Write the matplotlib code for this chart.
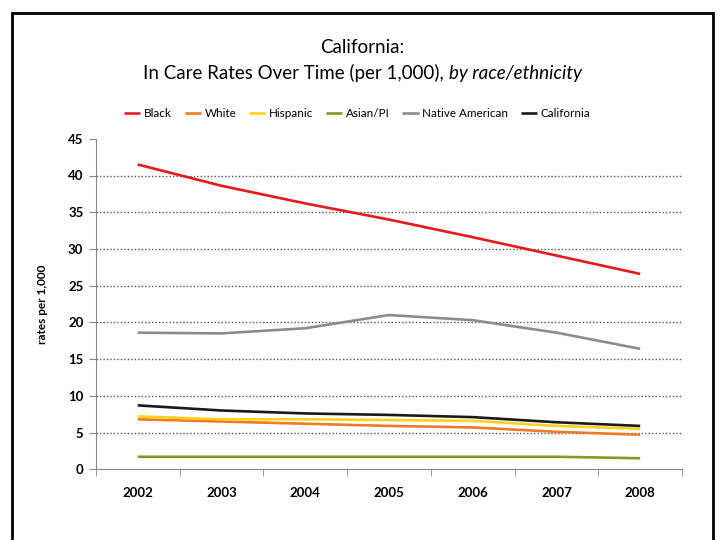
import matplotlib.pyplot as plt
from matplotlib.patches import Rectangle

plt.rcParams['font.family'] = ['Lato', 'DejaVu Sans']

years = ['2002', '2003', '2004', '2005', '2006', '2007', '2008']
black = [41.5, 38.6, 36.2, 34.0, 31.6, 29.1, 26.6]
white = [6.8, 6.5, 6.2, 5.9, 5.7, 5.1, 4.7]
hispanic = [7.2, 6.8, 6.8, 6.7, 6.6, 5.9, 5.5]
asian_pi = [1.7, 1.7, 1.7, 1.7, 1.7, 1.7, 1.5]
native_american = [18.6, 18.5, 19.2, 21.0, 20.3, 18.6, 16.4]
california = [8.7, 8.0, 7.6, 7.4, 7.1, 6.4, 5.9]

series = [
    ('Black', black, '#e8181e'),
    ('White', white, '#f07a2a'),
    ('Hispanic', hispanic, '#ffd21a'),
    ('Asian/PI', asian_pi, '#8a9628'),
    ('Native American', native_american, '#8c8c8c'),
    ('California', california, '#1a1a1a'),
]

fig = plt.figure(figsize=(7.21, 5.40), dpi=100)
ax = fig.add_axes([0.133, 0.131, 0.813, 0.612])

x = list(range(len(years)))
for name, vals, color in series:
    ax.plot(x, vals, color=color, lw=1.9, label=name, solid_capstyle='butt')

ax.set_xlim(-0.5, len(years) - 0.5)
ax.set_ylim(0, 45)
ax.set_yticks(range(0, 50, 5))
ax.set_xticks(x)
ax.set_xticklabels(years, fontsize=9.5, fontweight='bold')
ax.set_xticks([i + 0.5 for i in range(-1, len(years))], minor=True)
ax.tick_params(axis='x', which='major', length=0, pad=13)
ax.tick_params(axis='x', which='minor', length=5, color='#888888', direction='out')
ax.tick_params(axis='y', length=5, color='#888888', labelsize=9.5, pad=4)
for lbl in ax.get_yticklabels():
    lbl.set_fontweight('bold')

# dotted gridlines
for v in range(5, 45, 5):
    ax.axhline(v, color='#555555', lw=1.0, ls=(0, (1, 1.5)), zorder=0)

for s in ['top', 'right']:
    ax.spines[s].set_visible(False)
for s in ['left', 'bottom']:
    ax.spines[s].set_color('#888888')

ax.set_ylabel('rates per 1,000', fontsize=8.5, fontweight='bold', labelpad=14)

ax.legend(loc='center', bbox_to_anchor=(0.446, 1.075), ncol=6, frameon=False,
          fontsize=8.4, handlelength=1.4, handletextpad=0.3, columnspacing=1.1)

fig.text(0.503, 1 - 47.5 / 540, 'California:', ha='center', va='center', fontsize=13.5)
t1 = fig.text(0.0, 1 - 73 / 540, 'In Care Rates Over Time (per 1,000), ', ha='left', va='center',
              fontsize=13.5)
t2 = fig.text(0.0, 1 - 73 / 540, 'by race/ethnicity', ha='left', va='center', fontsize=13.5,
              style='italic')
fig.canvas.draw()
r = fig.canvas.get_renderer()
w1 = t1.get_window_extent(r).width / fig.bbox.width
w2 = t2.get_window_extent(r).width / fig.bbox.width
start = 0.503 - (w1 + w2) / 2
t1.set_x(start)
t2.set_x(start + w1)

# outer frame, open at the bottom
fig.patches.append(Rectangle((12 / 721, -0.05), 701 / 721, 1.05 - 12.5 / 540,
                             transform=fig.transFigure, fill=False, lw=2, ec='black'))

fig.savefig('out.png', dpi=100)
